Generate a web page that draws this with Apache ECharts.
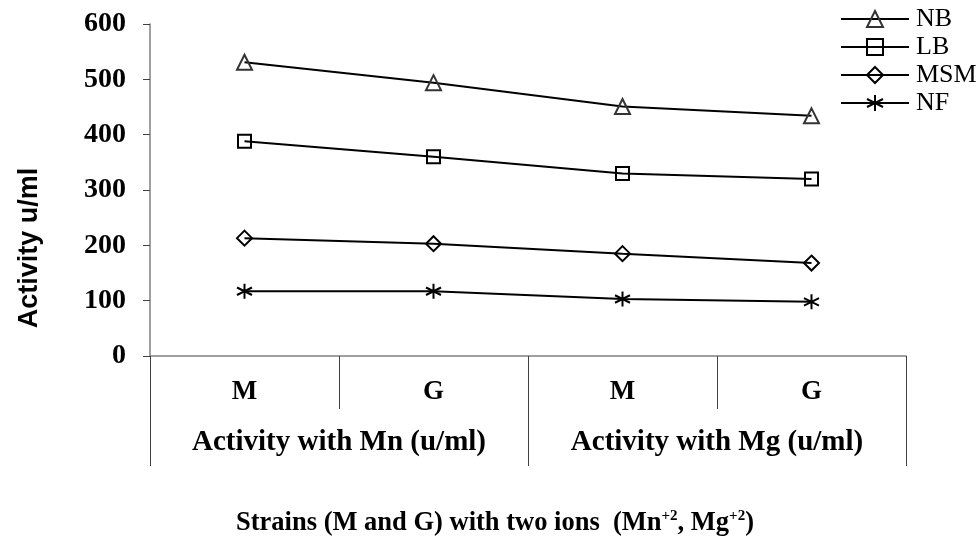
<!DOCTYPE html>
<html>
<head>
<meta charset="utf-8">
<script src="https://cdn.jsdelivr.net/npm/echarts@6/dist/echarts.min.js"></script>
<style>
html,body{margin:0;padding:0;background:#fff;}
#chart{width:979px;height:556px;}
</style>
</head>
<body>
<div id="chart"></div>
<script>
var strainLabels = ['M', 'G', 'M', 'G'];
var ionGroups = ['Activity with Mn (u/ml)', 'Activity with Mg (u/ml)'];
var seriesNames = ['NB', 'LB', 'MSM', 'NF'];
var nbValues = [531, 494, 451, 434];
var lbValues = [388, 360, 330, 320];
var msmValues = [213, 203, 185, 168];
var nfValues = [117, 117, 103, 98];
var yTicks = { min: 0, max: 600, interval: 100 };
var yTitle = 'Activity u/ml';

var serif = 'Liberation Serif';
var asterisk = 'path://M5,0L5,10M0.67,2.5L9.33,7.5M0.67,7.5L9.33,2.5';

function mk(name, data, symbol, size, border) {
  return {
    name: name, type: 'line', data: data,
    xAxisIndex: 0,
    symbol: symbol, symbolSize: size,
    lineStyle: { color: '#000', width: 2 },
    itemStyle: { color: 'rgba(0,0,0,0)', borderColor: border, borderWidth: 2 },
    emphasis: { disabled: true }
  };
}

var chart = echarts.init(document.getElementById('chart'));
chart.setOption({
  animation: false,
  backgroundColor: '#fff',
  grid: { left: 150, right: 73, top: 24, bottom: 200, containLabel: false },
  title: {
    text: '{b|Strains (M and G) with two ions  (Mn}{s|+2}{b|, Mg}{s|+2}{b|)}',
    left: 490, top: 500, textAlign: 'center',
    textStyle: {
      rich: {
        b: { fontFamily: serif, fontWeight: 'bold', fontSize: 26.5, color: '#000', lineHeight: 32, verticalAlign: 'bottom' },
        s: { fontFamily: serif, fontWeight: 'bold', fontSize: 15, color: '#000', lineHeight: 32, verticalAlign: 'top', padding: [4, 0, 0, 0] }
      }
    }
  },
  graphic: [{
    type: 'text', x: 30, y: 248, rotation: Math.PI / 2,
    style: { text: yTitle, fontFamily: 'Liberation Sans', fontWeight: 'bold', fontSize: 27, fill: '#000', align: 'center', verticalAlign: 'middle' }
  }],
  legend: {
    orient: 'vertical', left: 835, top: 1,
    itemWidth: 68, itemHeight: 20, itemGap: 2,
    data: seriesNames,
    textStyle: { fontFamily: serif, fontSize: 26, lineHeight: 26, color: '#000', padding: [0, 0, 0, 2] }
  },
  xAxis: [
    {
      type: 'category', data: strainLabels, position: 'bottom', boundaryGap: true,
      axisLine: { show: true, lineStyle: { color: '#808080', width: 1.5 } },
      axisTick: { show: true, interval: 0, length: 53, lineStyle: { color: '#404040', width: 1 } },
      axisLabel: { interval: 0, margin: 23, fontFamily: serif, fontWeight: 'bold', fontSize: 27, color: '#000' }
    },
    {
      type: 'category', data: ionGroups, position: 'bottom', boundaryGap: true,
      axisLine: { show: false },
      axisTick: { show: true, interval: 0, length: 110, lineStyle: { color: '#404040', width: 1 } },
      axisLabel: { interval: 0, margin: 72, fontFamily: serif, fontWeight: 'bold', fontSize: 29, color: '#000' }
    }
  ],
  yAxis: {
    type: 'value', min: yTicks.min, max: yTicks.max, interval: yTicks.interval,
    axisLine: { show: true, lineStyle: { color: '#808080', width: 1.5 } },
    axisTick: { show: true, length: 7, lineStyle: { color: '#404040' } },
    splitLine: { show: false },
    axisLabel: { margin: 24, fontFamily: serif, fontWeight: 'bold', fontSize: 28, color: '#000' }
  },
  series: [
    mk('NB', nbValues, 'triangle', 15, '#333'),
    mk('LB', lbValues, 'rect', 13, '#000'),
    mk('MSM', msmValues, 'diamond', 15, '#000'),
    mk('NF', nfValues, asterisk, 15, '#000')
  ]
});
</script>
</body>
</html>
